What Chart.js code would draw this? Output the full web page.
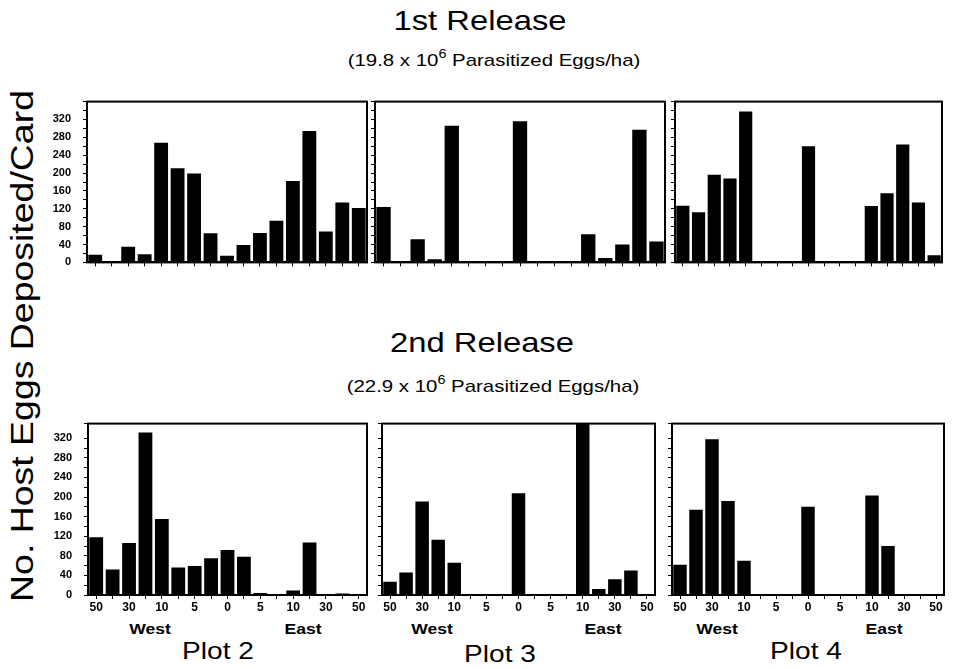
<!DOCTYPE html>
<html>
<head>
<meta charset="utf-8">
<script src="https://cdn.jsdelivr.net/npm/chart.js@4.4.0/dist/chart.umd.min.js"></script>
<style>
  body { margin: 0; width: 954px; height: 669px; background: #fff; position: relative; overflow: hidden;
         font-family: "Liberation Sans", Arial, Helvetica, sans-serif; color: #000; }
  .t { position: absolute; white-space: nowrap; transform: translate(-50%, -50%) scaleX(1.17); }
  .sub { transform: translate(-50%, -50%) scaleX(1.2); }
  .rot { transform: translate(-50%, -50%) rotate(-90deg) scaleX(1.17); }
  canvas { position: absolute; }
</style>
</head>
<body>
<div class="t" style="left:480px;top:21px;font-size:28px">1st Release</div>
<div class="t sub" style="left:494px;top:60px;font-size:17px">(19.8 x 10<sup style="font-size:12px;position:relative;top:-2px">6</sup> Parasitized Eggs/ha)</div>
<div class="t" style="left:482px;top:343px;font-size:28px">2nd Release</div>
<div class="t sub" style="left:493px;top:386px;font-size:17px">(22.9 x 10<sup style="font-size:12px;position:relative;top:-2px">6</sup> Parasitized Eggs/ha)</div>
<div class="t rot" style="left:22px;top:346px;font-size:32px">No. Host Eggs Deposited/Card</div>

<script>
// distance of each card from the plot centre, west (left) to east (right)
const positions = ["50", "", "30", "", "10", "", "5", "", "0", "", "5", "", "10", "", "30", "", "50"];

// 1st release, eggs per card
const rel1Plot2 = [17, 0, 35, 18, 268, 211, 199, 65, 15, 39, 66, 93, 182, 294, 69, 134, 122];
const rel1Plot3 = [124, 0, 52, 7, 306, 0, 0, 0, 316, 0, 0, 0, 63, 10, 40, 297, 47];
const rel1Plot4 = [127, 112, 196, 188, 338, 0, 0, 0, 260, 0, 0, 0, 126, 155, 264, 134, 16];

// 2nd release, eggs per card
const rel2Plot2 = [118, 52, 106, 332, 155, 56, 59, 75, 92, 78, 4, 0, 9, 107, 0, 3, 0];
const rel2Plot3 = [27, 46, 191, 113, 66, 0, 0, 0, 208, 0, 0, 0, 350, 12, 32, 50, 0];
const rel2Plot4 = [62, 174, 318, 192, 70, 0, 0, 0, 180, 0, 0, 0, 203, 100, 2, 0, 0];

const yMaxRow1 = 360;
const yMaxRow2 = 350;
const yLastLabel = 320;

const FONT = '"Liberation Sans", Arial, Helvetica, sans-serif';

const frame = {
  id: "frame",
  afterDraw(chart) {
    const { ctx, chartArea: a } = chart;
    ctx.save();
    ctx.strokeStyle = "#000";
    ctx.lineWidth = 2;
    ctx.strokeRect(a.left, a.top, a.right - a.left, a.bottom - a.top);
    ctx.restore();
  }
};

function addText(text, x, y, size, bold) {
  const d = document.createElement("div");
  d.className = "t";
  d.textContent = text;
  d.style.left = x + "px";
  d.style.top = y + "px";
  d.style.fontSize = size + "px";
  if (bold) d.style.fontWeight = "bold";
  document.body.append(d);
}

function makePanel(p) {
  const yw = p.yLabels ? 48 : 6;
  const xh = p.xLabels ? 22 : 6;
  const canvas = document.createElement("canvas");
  canvas.width = p.right - p.left + yw + 2;
  canvas.height = p.bottom - p.top + xh + 2;
  canvas.style.left = (p.left - yw) + "px";
  canvas.style.top = (p.top - 2) + "px";
  document.body.append(canvas);

  new Chart(canvas, {
    type: "bar",
    data: {
      labels: positions,
      datasets: [{
        data: p.values,
        backgroundColor: "#000",
        borderWidth: 0,
        barPercentage: 0.84,
        categoryPercentage: 1
      }]
    },
    options: {
      responsive: false,
      animation: false,
      layout: { padding: { top: 2, right: 2, left: 0, bottom: 0 } },
      plugins: { legend: { display: false }, tooltip: { enabled: false } },
      scales: {
        x: {
          grid: { drawOnChartArea: false, offset: false, tickLength: 4, color: "#000" },
          border: { color: "#000", width: 2 },
          ticks: {
            autoSkip: false,
            maxRotation: 0,
            padding: 1,
            color: "#000",
            font: { family: FONT, size: 12, weight: "bold" },
            callback: (v, i) => (p.xLabels ? positions[i] : "")
          },
          afterFit(s) { s.height = xh; }
        },
        y: {
          min: 0,
          max: p.max,
          grid: { drawOnChartArea: false, tickLength: 4, color: "#000" },
          border: { color: "#000", width: 2 },
          ticks: {
            stepSize: 20,
            autoSkip: false,
            padding: 12,
            color: "#000",
            font: { family: FONT, size: 11, weight: "bold" },
            callback: (v) => (p.yLabels && v % 40 === 0 && v <= yLastLabel ? v : "")
          },
          afterFit(s) { s.width = yw; }
        }
      }
    },
    plugins: [frame]
  });
}

makePanel({ values: rel1Plot2, left: 87, right: 367, top: 85, bottom: 275, max: yMaxRow1, yLabels: true, xLabels: false });
makePanel({ values: rel1Plot3, left: 375, right: 665, top: 85, bottom: 275, max: yMaxRow1, yLabels: false, xLabels: false });
makePanel({ values: rel1Plot4, left: 675, right: 942, top: 85, bottom: 275, max: yMaxRow1, yLabels: false, xLabels: false });
makePanel({ values: rel2Plot2, left: 88, right: 367, top: 407, bottom: 595, max: yMaxRow2, yLabels: true, xLabels: true });
makePanel({ values: rel2Plot3, left: 382, right: 655, top: 407, bottom: 595, max: yMaxRow2, yLabels: false, xLabels: true });
makePanel({ values: rel2Plot4, left: 672, right: 944, top: 407, bottom: 595, max: yMaxRow2, yLabels: false, xLabels: true });

addText("West", 150, 628, 15, true);
addText("East", 303, 628, 15, true);
addText("Plot 2", 218, 651, 24);
addText("West", 432, 628, 15, true);
addText("East", 603, 628, 15, true);
addText("Plot 3", 500, 654, 24);
addText("West", 717, 628, 15, true);
addText("East", 884, 628, 15, true);
addText("Plot 4", 806, 651, 24);
</script>
</body>
</html>
